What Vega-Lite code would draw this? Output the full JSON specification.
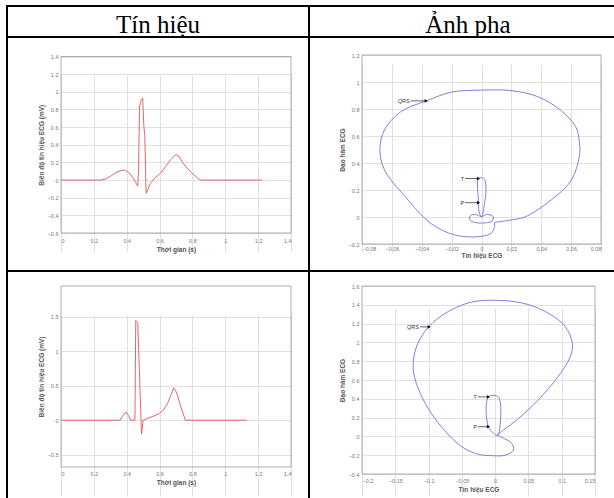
{
  "$schema": "https://vega.github.io/schema/vega-lite/v6.json",
  "padding": {"left": 6, "top": 5, "right": 0, "bottom": 0},
  "columns": 2,
  "spacing": 0,
  "bounds": "flush",
  "datasets": {
    "sig1": [
      {"t": 0, "v": 0}, {"t": 0.24, "v": 0}, {"t": 0.27, "v": 0.01}, {"t": 0.3, "v": 0.04}, {"t": 0.33, "v": 0.08},
      {"t": 0.36, "v": 0.105}, {"t": 0.385, "v": 0.114}, {"t": 0.4, "v": 0.1}, {"t": 0.42, "v": 0.07}, {"t": 0.44, "v": 0.02},
      {"t": 0.455, "v": -0.03}, {"t": 0.467, "v": -0.07}, {"t": 0.472, "v": 0.1}, {"t": 0.478, "v": 0.83}, {"t": 0.488, "v": 0.91},
      {"t": 0.497, "v": 0.93}, {"t": 0.504, "v": 0.62}, {"t": 0.51, "v": 0.5}, {"t": 0.518, "v": -0.15}, {"t": 0.53, "v": -0.1},
      {"t": 0.543, "v": -0.04}, {"t": 0.57, "v": 0.02}, {"t": 0.604, "v": 0.075}, {"t": 0.64, "v": 0.16}, {"t": 0.665, "v": 0.227},
      {"t": 0.7, "v": 0.29}, {"t": 0.72, "v": 0.265}, {"t": 0.736, "v": 0.21}, {"t": 0.76, "v": 0.15}, {"t": 0.787, "v": 0.095},
      {"t": 0.82, "v": 0.04}, {"t": 0.848, "v": 0}, {"t": 1.224, "v": 0}
    ],
    "sig2": [
      {"t": 0, "v": 0}, {"t": 0.36, "v": 0}, {"t": 0.375, "v": 0.06}, {"t": 0.395, "v": 0.12}, {"t": 0.41, "v": 0.07},
      {"t": 0.425, "v": 0}, {"t": 0.45, "v": 0}, {"t": 0.455, "v": 1.45}, {"t": 0.467, "v": 1.42}, {"t": 0.49, "v": -0.2},
      {"t": 0.5, "v": 0}, {"t": 0.53, "v": 0.03}, {"t": 0.565, "v": 0.06}, {"t": 0.6, "v": 0.1}, {"t": 0.625, "v": 0.15},
      {"t": 0.65, "v": 0.25}, {"t": 0.668, "v": 0.36}, {"t": 0.686, "v": 0.47}, {"t": 0.7, "v": 0.42}, {"t": 0.712, "v": 0.34},
      {"t": 0.725, "v": 0.23}, {"t": 0.74, "v": 0.12}, {"t": 0.757, "v": 0}, {"t": 1.13, "v": 0}
    ],
    "ph1": [
      {"s": 1, "i": 1, "x": 0.0087, "y": -0.04}, {"s": 1, "i": 2, "x": 0.018, "y": -0.025}, {"s": 1, "i": 3, "x": 0.029, "y": 0},
      {"s": 1, "i": 4, "x": 0.0466, "y": 0.126}, {"s": 1, "i": 5, "x": 0.06, "y": 0.27}, {"s": 1, "i": 6, "x": 0.0655, "y": 0.45},
      {"s": 1, "i": 7, "x": 0.0655, "y": 0.56}, {"s": 1, "i": 8, "x": 0.063, "y": 0.67}, {"s": 1, "i": 9, "x": 0.053, "y": 0.79},
      {"s": 1, "i": 10, "x": 0.038, "y": 0.89}, {"s": 1, "i": 11, "x": 0.02, "y": 0.936}, {"s": 1, "i": 12, "x": 0, "y": 0.94},
      {"s": 1, "i": 13, "x": -0.02, "y": 0.925}, {"s": 1, "i": 14, "x": -0.037, "y": 0.86}, {"s": 1, "i": 15, "x": -0.054, "y": 0.78},
      {"s": 1, "i": 16, "x": -0.065, "y": 0.644}, {"s": 1, "i": 17, "x": -0.068, "y": 0.5}, {"s": 1, "i": 18, "x": -0.065, "y": 0.35},
      {"s": 1, "i": 19, "x": -0.051, "y": 0.15}, {"s": 1, "i": 20, "x": -0.034, "y": -0.047}, {"s": 1, "i": 21, "x": -0.018, "y": -0.133},
      {"s": 1, "i": 22, "x": -0.0025, "y": -0.146}, {"s": 1, "i": 23, "x": 0.0065, "y": -0.12}, {"s": 1, "i": 24, "x": 0.0087, "y": -0.07},
      {"s": 1, "i": 25, "x": 0.0087, "y": -0.04},
      {"s": 2, "i": 1, "x": 0, "y": 0}, {"s": 2, "i": 2, "x": -0.0015, "y": 0.03}, {"s": 2, "i": 3, "x": -0.002, "y": 0.11},
      {"s": 2, "i": 4, "x": -0.002, "y": 0.285}, {"s": 2, "i": 5, "x": 0.0005, "y": 0.29}, {"s": 2, "i": 6, "x": 0.002, "y": 0.28},
      {"s": 2, "i": 7, "x": 0.003, "y": 0.2}, {"s": 2, "i": 8, "x": 0.002, "y": 0.1}, {"s": 2, "i": 9, "x": 0.001, "y": 0.03},
      {"s": 2, "i": 10, "x": 0, "y": 0},
      {"s": 3, "i": 1, "x": 0, "y": 0}, {"s": 3, "i": 2, "x": -0.005, "y": 0.02}, {"s": 3, "i": 3, "x": -0.008, "y": 0},
      {"s": 3, "i": 4, "x": -0.007, "y": -0.03}, {"s": 3, "i": 5, "x": 0, "y": -0.045}, {"s": 3, "i": 6, "x": 0.007, "y": -0.03},
      {"s": 3, "i": 7, "x": 0.008, "y": 0}, {"s": 3, "i": 8, "x": 0.004, "y": 0.02}, {"s": 3, "i": 9, "x": 0, "y": 0}
    ],
    "ph2": [
      {"s": 1, "i": 1, "x": 0.0025, "y": 0.014}, {"s": 1, "i": 2, "x": 0.0125, "y": 0.068}, {"s": 1, "i": 3, "x": 0.035, "y": 0.19},
      {"s": 1, "i": 4, "x": 0.065, "y": 0.39}, {"s": 1, "i": 5, "x": 0.095, "y": 0.64}, {"s": 1, "i": 6, "x": 0.113, "y": 0.85},
      {"s": 1, "i": 7, "x": 0.116, "y": 0.99}, {"s": 1, "i": 8, "x": 0.105, "y": 1.17}, {"s": 1, "i": 9, "x": 0.075, "y": 1.33},
      {"s": 1, "i": 10, "x": 0.04, "y": 1.42}, {"s": 1, "i": 11, "x": 0, "y": 1.448}, {"s": 1, "i": 12, "x": -0.035, "y": 1.43},
      {"s": 1, "i": 13, "x": -0.07, "y": 1.33}, {"s": 1, "i": 14, "x": -0.1, "y": 1.165}, {"s": 1, "i": 15, "x": -0.118, "y": 0.957},
      {"s": 1, "i": 16, "x": -0.123, "y": 0.71}, {"s": 1, "i": 17, "x": -0.11, "y": 0.42}, {"s": 1, "i": 18, "x": -0.085, "y": 0.14},
      {"s": 1, "i": 19, "x": -0.05, "y": -0.11}, {"s": 1, "i": 20, "x": -0.025, "y": -0.19}, {"s": 1, "i": 21, "x": -0.005, "y": -0.205},
      {"s": 1, "i": 22, "x": 0.015, "y": -0.2}, {"s": 1, "i": 23, "x": 0.0275, "y": -0.146}, {"s": 1, "i": 24, "x": 0.025, "y": -0.075},
      {"s": 1, "i": 25, "x": 0.01, "y": -0.01}, {"s": 1, "i": 26, "x": 0.0025, "y": 0.014},
      {"s": 2, "i": 1, "x": 0.0025, "y": 0.005}, {"s": 2, "i": 2, "x": -0.01, "y": 0.1}, {"s": 2, "i": 3, "x": -0.01, "y": 0.42},
      {"s": 2, "i": 4, "x": 0.005, "y": 0.42}, {"s": 2, "i": 5, "x": 0.005, "y": 0.02}, {"s": 2, "i": 6, "x": 0.0025, "y": 0.005}
    ],
    "ann1": [
      {"label": "QRS", "x": -0.037, "xl": -0.0475, "y": 0.86},
      {"label": "T", "x": -0.002, "xl": -0.011, "y": 0.285},
      {"label": "P", "x": -0.002, "xl": -0.011, "y": 0.106}
    ],
    "ann2": [
      {"label": "QRS", "x": -0.099, "xl": -0.113, "y": 1.165},
      {"label": "T", "x": -0.01, "xl": -0.026, "y": 0.42},
      {"label": "P", "x": -0.01, "xl": -0.026, "y": 0.103}
    ]
  },
  "concat": [
    {"width": 302, "height": 31, "data": {"values": [{"h": "Tín hiệu"}]},
     "mark": {"type": "text", "font": "Liberation Serif", "fontSize": 25, "baseline": "alphabetic", "dy": 11, "color": "black"},
     "encoding": {
       "x": {"datum": 0.5, "type": "quantitative", "scale": {"domain": [0, 1]}, "axis": null},
       "y": {"datum": 0.5, "type": "quantitative", "scale": {"domain": [0, 1]}, "axis": null},
       "text": {"field": "h"}}},
    {"width": 318, "height": 31, "data": {"values": [{"h": "Ảnh pha"}]},
     "mark": {"type": "text", "font": "Liberation Serif", "fontSize": 25, "baseline": "alphabetic", "dy": 11, "color": "black"},
     "encoding": {
       "x": {"datum": 0.5, "type": "quantitative", "scale": {"domain": [0, 1]}, "axis": null},
       "y": {"datum": 0.5, "type": "quantitative", "scale": {"domain": [0, 1]}, "axis": null},
       "text": {"field": "h"}}},
    {
      "width": 302, "height": 234,
      "layer": [
        {"data": {"name": "sig1"}, "mark": {"type": "line", "color": "#e05656", "strokeWidth": 0.9},
         "encoding": {
           "x": {"field": "t", "type": "quantitative",
                 "scale": {"domain": [0, 1.4], "range": [54, 284], "nice": false, "zero": false},
                 "axis": {"values": [0, 0.2, 0.4, 0.6, 0.8, 1, 1.2, 1.4], "tickCount": 30, "offset": -38, "title": "Thời gian (s)", "labelPadding": 5, "labelExpr": "format(datum.value, '~g')"}},
           "y": {"field": "v", "type": "quantitative",
                 "scale": {"domain": [-0.6, 1.4], "range": [196, 19.5], "nice": false, "zero": false},
                 "axis": {"values": [-0.6, -0.4, -0.2, 0, 0.2, 0.4, 0.6, 0.8, 1, 1.2, 1.4], "tickCount": 30, "offset": -54, "title": "Biên độ tín hiệu ECG (mV)", "labelExpr": "format(datum.value, '~g')"}}
         }},
        {"data": {"values": [{}]}, "mark": {"type": "rect", "fill": "transparent", "stroke": "#999", "strokeWidth": 0.8},
         "encoding": {"x": {"datum": 0, "type": "quantitative"}, "x2": {"datum": 1.4},
                      "y": {"datum": -0.6, "type": "quantitative"}, "y2": {"datum": 1.4}}}
      ]
    },
    {
      "width": 318, "height": 234,
      "layer": [
        {"data": {"name": "ph1"}, "mark": {"type": "line", "color": "#7070dc", "strokeWidth": 0.9, "interpolate": "catmull-rom"},
         "encoding": {
           "x": {"field": "x", "type": "quantitative",
                 "scale": {"domain": [-0.08, 0.08], "range": [53, 292], "nice": false, "zero": false},
                 "axis": {"values": [-0.08, -0.06, -0.04, -0.02, 0, 0.02, 0.04, 0.06, 0.08], "tickCount": 30, "offset": -27, "title": "Tín hiệu ECG", "labelPadding": 2, "titlePadding": 1, "labelExpr": "format(datum.value, '~g')"}},
           "y": {"field": "y", "type": "quantitative",
                 "scale": {"domain": [-0.2, 1.2], "range": [207, 18], "nice": false, "zero": false},
                 "axis": {"values": [-0.2, 0, 0.2, 0.4, 0.6, 0.8, 1, 1.2], "tickCount": 30, "offset": -53, "title": "Đạo hàm ECG", "labelExpr": "format(datum.value, '~g')"}},
           "detail": {"field": "s"},
           "order": {"field": "i"}
         }},
        {"data": {"values": [{}]}, "mark": {"type": "rect", "fill": "transparent", "stroke": "#999", "strokeWidth": 0.8},
         "encoding": {"x": {"datum": -0.08, "type": "quantitative"}, "x2": {"datum": 0.08},
                      "y": {"datum": -0.2, "type": "quantitative"}, "y2": {"datum": 1.2}}},
        {"data": {"name": "ann1"}, "mark": {"type": "rule", "color": "#222", "strokeWidth": 0.7},
         "encoding": {"x": {"field": "xl", "type": "quantitative"}, "x2": {"field": "x"},
                      "y": {"field": "y", "type": "quantitative"}}},
        {"data": {"name": "ann1"}, "mark": {"type": "point", "shape": "triangle-right", "filled": true, "color": "#111", "size": 14, "opacity": 1},
         "encoding": {"x": {"field": "x", "type": "quantitative"},
                      "y": {"field": "y", "type": "quantitative"}}},
        {"data": {"name": "ann1"}, "mark": {"type": "text", "align": "right", "baseline": "middle", "dx": -1, "fontSize": 5.5, "color": "#333"},
         "encoding": {"x": {"field": "xl", "type": "quantitative"},
                      "y": {"field": "y", "type": "quantitative"},
                      "text": {"field": "label"}}}
      ]
    },
    {
      "width": 302, "height": 240,
      "layer": [
        {"data": {"name": "sig2"}, "mark": {"type": "line", "color": "#e05656", "strokeWidth": 0.9},
         "encoding": {
           "x": {"field": "t", "type": "quantitative",
                 "scale": {"domain": [0, 1.4], "range": [54, 284], "nice": false, "zero": false},
                 "axis": {"values": [0, 0.2, 0.4, 0.6, 0.8, 1, 1.2, 1.4], "tickCount": 30, "offset": -44, "title": "Thời gian (s)", "labelPadding": 4, "labelExpr": "format(datum.value, '~g')"}},
           "y": {"field": "v", "type": "quantitative",
                 "scale": {"domain": [-0.68, 1.95], "range": [196, 15], "nice": false, "zero": false},
                 "axis": {"values": [-0.5, 0, 0.5, 1, 1.5], "tickCount": 30, "offset": -54, "title": "Biên độ tín hiệu ECG (mV)", "labelExpr": "format(datum.value, '~g')"}}
         }},
        {"data": {"values": [{}]}, "mark": {"type": "rect", "fill": "transparent", "stroke": "#999", "strokeWidth": 0.8},
         "encoding": {"x": {"datum": 0, "type": "quantitative"}, "x2": {"datum": 1.4},
                      "y": {"datum": -0.68, "type": "quantitative"}, "y2": {"datum": 1.95}}}
      ]
    },
    {
      "width": 318, "height": 240,
      "layer": [
        {"data": {"name": "ph2"}, "mark": {"type": "line", "color": "#7070dc", "strokeWidth": 0.9, "interpolate": "catmull-rom"},
         "encoding": {
           "x": {"field": "x", "type": "quantitative",
                 "scale": {"domain": [-0.2, 0.15], "range": [53, 286], "nice": false, "zero": false},
                 "axis": {"values": [-0.2, -0.15, -0.1, -0.05, 0, 0.05, 0.1, 0.15], "tickCount": 30, "offset": -37, "title": "Tín hiệu ECG", "labelPadding": 4, "labelExpr": "format(datum.value, '~g')"}},
           "y": {"field": "y", "type": "quantitative",
                 "scale": {"domain": [-0.4, 1.6], "range": [203, 15], "nice": false, "zero": false},
                 "axis": {"values": [-0.4, -0.2, 0, 0.2, 0.4, 0.6, 0.8, 1, 1.2, 1.4, 1.6], "tickCount": 30, "offset": -53, "title": "Đạo hàm ECG", "labelExpr": "format(datum.value, '~g')"}},
           "detail": {"field": "s"},
           "order": {"field": "i"}
         }},
        {"data": {"values": [{}]}, "mark": {"type": "rect", "fill": "transparent", "stroke": "#999", "strokeWidth": 0.8},
         "encoding": {"x": {"datum": -0.2, "type": "quantitative"}, "x2": {"datum": 0.15},
                      "y": {"datum": -0.4, "type": "quantitative"}, "y2": {"datum": 1.6}}},
        {"data": {"name": "ann2"}, "mark": {"type": "rule", "color": "#222", "strokeWidth": 0.7},
         "encoding": {"x": {"field": "xl", "type": "quantitative"}, "x2": {"field": "x"},
                      "y": {"field": "y", "type": "quantitative"}}},
        {"data": {"name": "ann2"}, "mark": {"type": "point", "shape": "triangle-right", "filled": true, "color": "#111", "size": 14, "opacity": 1},
         "encoding": {"x": {"field": "x", "type": "quantitative"},
                      "y": {"field": "y", "type": "quantitative"}}},
        {"data": {"name": "ann2"}, "mark": {"type": "text", "align": "right", "baseline": "middle", "dx": -1, "fontSize": 5.5, "color": "#333"},
         "encoding": {"x": {"field": "xl", "type": "quantitative"},
                      "y": {"field": "y", "type": "quantitative"},
                      "text": {"field": "label"}}}
      ]
    }
  ],
  "config": {
    "font": "Liberation Sans",
    "view": {"stroke": "black", "strokeWidth": 2},
    "axis": {
      "domain": false, "ticks": false, "grid": true, "labelOverlap": false,
      "gridColor": "#d2d2d2", "gridWidth": 0.7,
      "labelFont": "Liberation Sans", "labelFontSize": 5.5, "labelColor": "#777", "labelPadding": 3,
      "titleFont": "Liberation Sans", "titleFontSize": 6.5, "titleFontWeight": "bold", "titleColor": "#555", "titlePadding": 3
    }
  }
}
